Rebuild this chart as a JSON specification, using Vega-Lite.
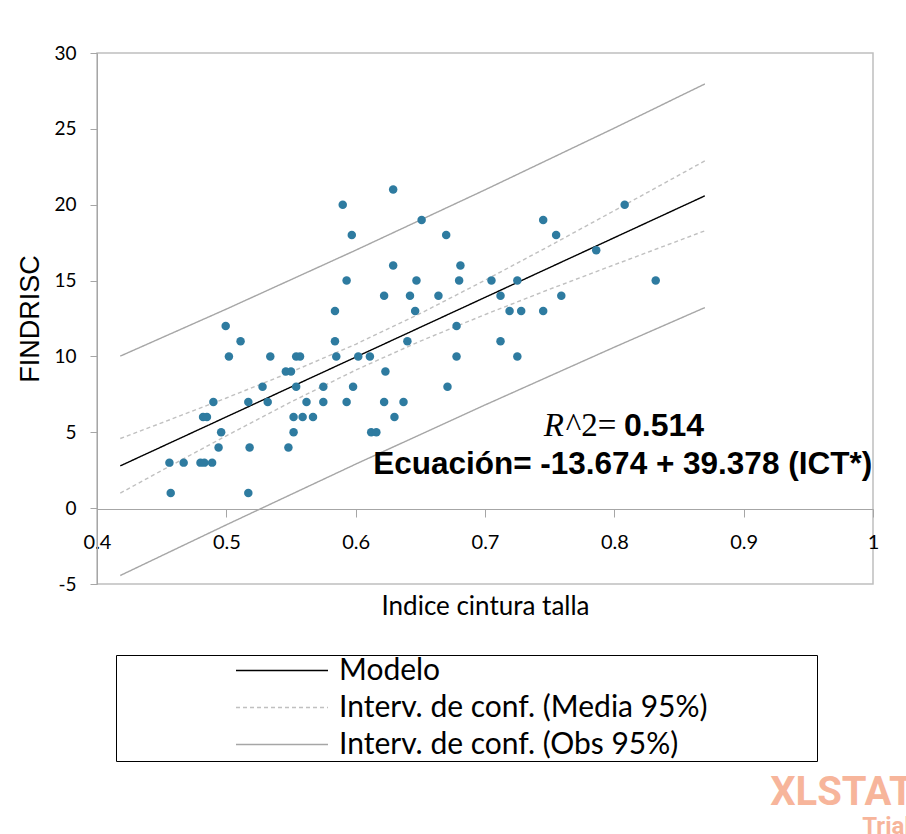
{
  "$schema": "https://vega.github.io/schema/vega-lite/v6.json",
  "width": 776,
  "height": 531,
  "autosize": {"type": "none"},
  "padding": {"left": 97, "top": 53, "right": 33, "bottom": 250},
  "background": "white",
  "config": {
    "view": {"stroke": "#bfbfbf", "strokeWidth": 1.5},
    "axis": {"grid": false, "labelFlush": false, "labelOverlap": false, "domainColor": "#a6a6a6", "tickColor": "#a6a6a6", "labelColor": "#000000", "titleColor": "#000000", "titleFontWeight": "normal"}
  },
  "datasets": {
    "puntos": [
      {"x": 0.457, "y": 1}, {"x": 0.517, "y": 1},
      {"x": 0.456, "y": 3}, {"x": 0.467, "y": 3}, {"x": 0.480, "y": 3}, {"x": 0.483, "y": 3}, {"x": 0.489, "y": 3},
      {"x": 0.494, "y": 4}, {"x": 0.518, "y": 4}, {"x": 0.548, "y": 4},
      {"x": 0.496, "y": 5}, {"x": 0.552, "y": 5}, {"x": 0.612, "y": 5}, {"x": 0.616, "y": 5},
      {"x": 0.482, "y": 6}, {"x": 0.485, "y": 6}, {"x": 0.552, "y": 6}, {"x": 0.559, "y": 6}, {"x": 0.567, "y": 6}, {"x": 0.630, "y": 6},
      {"x": 0.490, "y": 7}, {"x": 0.517, "y": 7}, {"x": 0.532, "y": 7}, {"x": 0.562, "y": 7}, {"x": 0.575, "y": 7}, {"x": 0.593, "y": 7}, {"x": 0.622, "y": 7}, {"x": 0.637, "y": 7},
      {"x": 0.528, "y": 8}, {"x": 0.554, "y": 8}, {"x": 0.575, "y": 8}, {"x": 0.598, "y": 8}, {"x": 0.671, "y": 8},
      {"x": 0.546, "y": 9}, {"x": 0.550, "y": 9}, {"x": 0.623, "y": 9},
      {"x": 0.502, "y": 10}, {"x": 0.534, "y": 10}, {"x": 0.554, "y": 10}, {"x": 0.557, "y": 10}, {"x": 0.585, "y": 10}, {"x": 0.602, "y": 10}, {"x": 0.611, "y": 10}, {"x": 0.678, "y": 10}, {"x": 0.725, "y": 10},
      {"x": 0.511, "y": 11}, {"x": 0.584, "y": 11}, {"x": 0.640, "y": 11}, {"x": 0.712, "y": 11},
      {"x": 0.4995, "y": 12}, {"x": 0.678, "y": 12},
      {"x": 0.584, "y": 13}, {"x": 0.646, "y": 13}, {"x": 0.719, "y": 13}, {"x": 0.728, "y": 13}, {"x": 0.745, "y": 13},
      {"x": 0.622, "y": 14}, {"x": 0.642, "y": 14}, {"x": 0.664, "y": 14}, {"x": 0.712, "y": 14}, {"x": 0.759, "y": 14},
      {"x": 0.593, "y": 15}, {"x": 0.647, "y": 15}, {"x": 0.680, "y": 15}, {"x": 0.705, "y": 15}, {"x": 0.725, "y": 15}, {"x": 0.832, "y": 15},
      {"x": 0.629, "y": 16}, {"x": 0.681, "y": 16},
      {"x": 0.786, "y": 17},
      {"x": 0.597, "y": 18}, {"x": 0.670, "y": 18}, {"x": 0.755, "y": 18},
      {"x": 0.651, "y": 19}, {"x": 0.745, "y": 19},
      {"x": 0.590, "y": 20}, {"x": 0.808, "y": 20},
      {"x": 0.629, "y": 21}
    ],
    "lineas": [
      {"serie": "Interv. de conf. (Obs 95%)", "linea": "obs_sup", "x": 0.418, "y": 10.02},
      {"serie": "Interv. de conf. (Obs 95%)", "linea": "obs_sup", "x": 0.5, "y": 13.12},
      {"serie": "Interv. de conf. (Obs 95%)", "linea": "obs_sup", "x": 0.6, "y": 17.0},
      {"serie": "Interv. de conf. (Obs 95%)", "linea": "obs_sup", "x": 0.7, "y": 20.98},
      {"serie": "Interv. de conf. (Obs 95%)", "linea": "obs_sup", "x": 0.8, "y": 25.05},
      {"serie": "Interv. de conf. (Obs 95%)", "linea": "obs_sup", "x": 0.87, "y": 27.96},
      {"serie": "Interv. de conf. (Obs 95%)", "linea": "obs_inf", "x": 0.418, "y": -4.44},
      {"serie": "Interv. de conf. (Obs 95%)", "linea": "obs_inf", "x": 0.5, "y": -1.1},
      {"serie": "Interv. de conf. (Obs 95%)", "linea": "obs_inf", "x": 0.6, "y": 2.9},
      {"serie": "Interv. de conf. (Obs 95%)", "linea": "obs_inf", "x": 0.7, "y": 6.8},
      {"serie": "Interv. de conf. (Obs 95%)", "linea": "obs_inf", "x": 0.8, "y": 10.61},
      {"serie": "Interv. de conf. (Obs 95%)", "linea": "obs_inf", "x": 0.87, "y": 13.22},
      {"serie": "Interv. de conf. (Media 95%)", "linea": "media_sup", "x": 0.418, "y": 4.59},
      {"serie": "Interv. de conf. (Media 95%)", "linea": "media_sup", "x": 0.45, "y": 5.62},
      {"serie": "Interv. de conf. (Media 95%)", "linea": "media_sup", "x": 0.5, "y": 7.26},
      {"serie": "Interv. de conf. (Media 95%)", "linea": "media_sup", "x": 0.55, "y": 8.97},
      {"serie": "Interv. de conf. (Media 95%)", "linea": "media_sup", "x": 0.6, "y": 10.8},
      {"serie": "Interv. de conf. (Media 95%)", "linea": "media_sup", "x": 0.65, "y": 12.83},
      {"serie": "Interv. de conf. (Media 95%)", "linea": "media_sup", "x": 0.7, "y": 15.02},
      {"serie": "Interv. de conf. (Media 95%)", "linea": "media_sup", "x": 0.75, "y": 17.29},
      {"serie": "Interv. de conf. (Media 95%)", "linea": "media_sup", "x": 0.8, "y": 19.61},
      {"serie": "Interv. de conf. (Media 95%)", "linea": "media_sup", "x": 0.87, "y": 22.89},
      {"serie": "Interv. de conf. (Media 95%)", "linea": "media_inf", "x": 0.418, "y": 0.99},
      {"serie": "Interv. de conf. (Media 95%)", "linea": "media_inf", "x": 0.45, "y": 2.48},
      {"serie": "Interv. de conf. (Media 95%)", "linea": "media_inf", "x": 0.5, "y": 4.77},
      {"serie": "Interv. de conf. (Media 95%)", "linea": "media_inf", "x": 0.55, "y": 7.0},
      {"serie": "Interv. de conf. (Media 95%)", "linea": "media_inf", "x": 0.6, "y": 9.1},
      {"serie": "Interv. de conf. (Media 95%)", "linea": "media_inf", "x": 0.65, "y": 11.01},
      {"serie": "Interv. de conf. (Media 95%)", "linea": "media_inf", "x": 0.7, "y": 12.76},
      {"serie": "Interv. de conf. (Media 95%)", "linea": "media_inf", "x": 0.75, "y": 14.43},
      {"serie": "Interv. de conf. (Media 95%)", "linea": "media_inf", "x": 0.8, "y": 16.04},
      {"serie": "Interv. de conf. (Media 95%)", "linea": "media_inf", "x": 0.87, "y": 18.28},
      {"serie": "Modelo", "linea": "modelo", "x": 0.418, "y": 2.786},
      {"serie": "Modelo", "linea": "modelo", "x": 0.6, "y": 9.953},
      {"serie": "Modelo", "linea": "modelo", "x": 0.87, "y": 20.585}
    ]
  },
  "layer": [
    {
      "data": {"name": "lineas"},
      "mark": {"type": "line", "strokeWidth": 1.4, "clip": false},
      "encoding": {
        "x": {
          "field": "x", "type": "quantitative",
          "scale": {"domain": [0.4, 1], "nice": false, "zero": false},
          "axis": {
            "orient": "bottom", "offset": -75,
            "values": [0.4, 0.5, 0.6, 0.7, 0.8, 0.9, 1],
            "format": ".1~f",
            "tickSize": 8, "labelPadding": 15,
            "labelFont": "Lato", "labelFontSize": 20,
            "title": "Indice cintura talla",
            "titleFont": "Lato", "titleFontSize": 26, "titlePadding": 41
          }
        },
        "y": {
          "field": "y", "type": "quantitative",
          "scale": {"domain": [-5, 30], "nice": false, "zero": false},
          "axis": {
            "values": [-5, 0, 5, 10, 15, 20, 25, 30],
            "labelExpr": "datum.value < 0 ? '-' + abs(datum.value) : '' + datum.value",
            "tickSize": 7, "labelPadding": 14,
            "labelFont": "Lato", "labelFontSize": 19,
            "title": "FINDRISC",
            "titleFont": "Liberation Sans", "titleFontSize": 27, "titlePadding": 9
          }
        },
        "detail": {"field": "linea"},
        "color": {
          "field": "serie", "type": "nominal",
          "scale": {"domain": ["Modelo", "Interv. de conf. (Media 95%)", "Interv. de conf. (Obs 95%)"], "range": ["#000000", "#c0c0c0", "#a6a6a6"]},
          "legend": {
            "orient": "none", "legendX": 19, "legendY": 602, "title": null,
            "symbolType": "stroke", "symbolSize": 8464, "symbolStrokeWidth": 1.5,
            "symbolOffset": 118, "labelOffset": 10, "clipHeight": 29,
            "labelExpr": "datum.label + '\u00a0\u00a0\u00a0\u00a0\u00a0\u00a0\u00a0\u00a0\u00a0\u00a0\u00a0\u00a0\u00a0\u00a0\u200b'",
            "labelFont": "Lato", "labelFontSize": 30, "labelColor": "#000000", "labelLimit": 0,
            "strokeColor": "#000000", "padding": 1, "rowPadding": 6
          }
        },
        "strokeDash": {
          "field": "serie", "type": "nominal",
          "scale": {"domain": ["Modelo", "Interv. de conf. (Media 95%)", "Interv. de conf. (Obs 95%)"], "range": [[1, 0], [4, 3], [1, 0]]}
        },
        "order": {"field": "x"}
      }
    },
    {
      "data": {"name": "puntos"},
      "mark": {"type": "circle", "size": 72, "color": "#2e7ba0", "opacity": 1},
      "encoding": {
        "x": {"field": "x", "type": "quantitative"},
        "y": {"field": "y", "type": "quantitative"}
      }
    },
    {
      "data": {"values": [{"t": "R"}]},
      "mark": {"type": "text", "font": "Liberation Serif", "fontStyle": "italic", "fontSize": 33, "align": "left", "baseline": "alphabetic", "color": "#000000"},
      "encoding": {"x": {"datum": 0.7455, "type": "quantitative"}, "y": {"datum": 4.75, "type": "quantitative"}, "text": {"field": "t", "type": "nominal"}}
    },
    {
      "data": {"values": [{"t": "^2="}]},
      "mark": {"type": "text", "font": "Liberation Serif", "fontSize": 33, "align": "left", "baseline": "alphabetic", "color": "#000000"},
      "encoding": {"x": {"datum": 0.7625, "type": "quantitative"}, "y": {"datum": 4.75, "type": "quantitative"}, "text": {"field": "t", "type": "nominal"}}
    },
    {
      "data": {"values": [{"t": "0.514"}]},
      "mark": {"type": "text", "font": "Liberation Sans", "fontWeight": "bold", "fontSize": 32, "align": "left", "baseline": "alphabetic", "color": "#000000"},
      "encoding": {"x": {"datum": 0.8075, "type": "quantitative"}, "y": {"datum": 4.75, "type": "quantitative"}, "text": {"field": "t", "type": "nominal"}}
    },
    {
      "data": {"values": [{"t": "Ecuación= -13.674 + 39.378 (ICT*)"}]},
      "mark": {"type": "text", "font": "Liberation Sans", "fontWeight": "bold", "fontSize": 31.5, "align": "left", "baseline": "alphabetic", "color": "#000000"},
      "encoding": {"x": {"datum": 0.6135, "type": "quantitative"}, "y": {"datum": 2.24, "type": "quantitative"}, "text": {"field": "t", "type": "nominal"}}
    },
    {
      "data": {"values": [{"t": "XLSTAT"}]},
      "mark": {"type": "text", "font": "Roboto", "fontWeight": "bold", "fontSize": 40, "align": "left", "baseline": "alphabetic", "color": "#f7b59b"},
      "encoding": {"x": {"datum": 0.9205, "type": "quantitative"}, "y": {"datum": -19.55, "type": "quantitative"}, "text": {"field": "t", "type": "nominal"}}
    },
    {
      "data": {"values": [{"t": "Trial"}]},
      "mark": {"type": "text", "font": "Roboto", "fontWeight": "bold", "fontSize": 24, "align": "left", "baseline": "alphabetic", "color": "#f7b59b"},
      "encoding": {"x": {"datum": 0.9917, "type": "quantitative"}, "y": {"datum": -21.5, "type": "quantitative"}, "text": {"field": "t", "type": "nominal"}}
    }
  ]
}
